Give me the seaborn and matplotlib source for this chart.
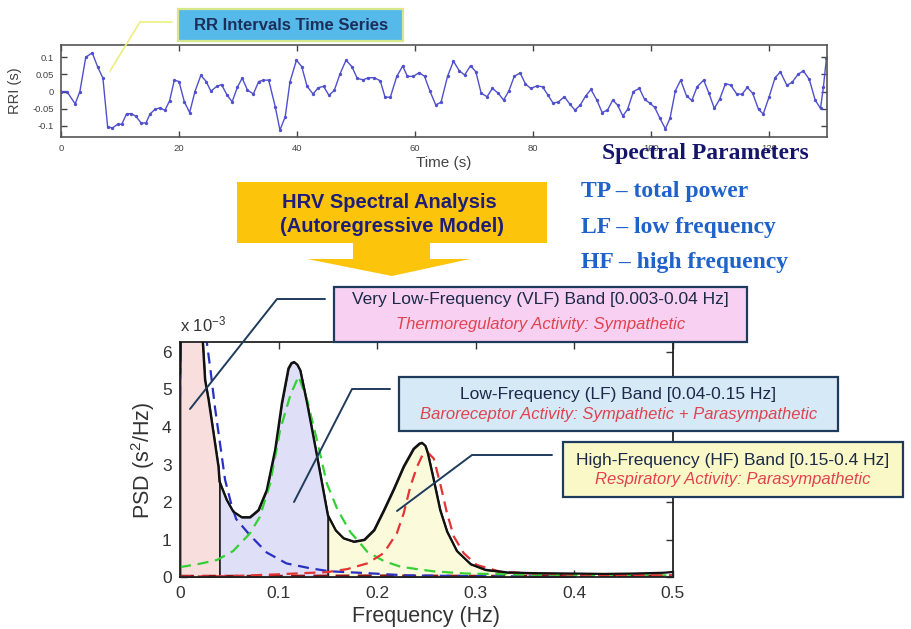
import numpy as np
import pandas as pd
import matplotlib
matplotlib.use("Agg")
import matplotlib.pyplot as plt
from matplotlib.patches import Rectangle, Polygon
from matplotlib.lines import Line2D
import seaborn as sns

# ---------------- RR interval series (s, deviation from mean in s) ----------------
rr_time = [0.0, 1.0, 2.4, 3.2, 4.2, 5.3, 6.2, 7.1, 7.9, 8.7, 9.6, 10.3, 11.1, 11.9,
           12.7, 13.6, 14.4, 15.1, 15.9, 16.8, 17.6, 18.4, 19.2, 20.0, 20.9, 21.8,
           22.7, 23.7, 24.6, 25.4, 26.4, 27.2, 28.1, 29.0, 29.9, 30.7, 31.6, 32.6,
           33.5, 34.3, 35.2, 36.3, 37.1, 38.0, 38.8, 39.9, 40.8, 41.7, 42.7, 43.6,
           44.5, 45.4, 46.3, 47.3, 48.3, 49.3, 50.2, 51.2, 52.1, 53.1, 54.1, 54.9,
           55.8, 56.9, 57.9, 58.7, 59.7, 60.7, 61.6, 62.5, 63.5, 64.4,
           65.5, 66.5, 67.5, 68.4, 69.4, 70.3, 71.2, 72.2, 73.1, 74.1, 75.0, 75.9,
           76.8, 77.8, 78.7, 79.6, 80.6, 81.6, 82.5, 83.4, 84.3, 85.3, 86.2, 87.1,
           88.0, 88.9, 89.8, 90.8, 91.7, 92.6, 93.5, 94.3, 95.2, 96.0, 97.0, 98.0,
           98.9, 99.8, 100.6, 101.5, 102.4, 103.2, 104.1, 105.0, 106.0, 106.9, 107.8,
           108.9, 109.8, 110.7, 111.6, 112.6, 113.5, 114.5, 115.4, 116.3, 117.2,
           118.2, 119.0, 120.0, 121.0, 121.9, 123.0, 123.9, 124.9, 125.8, 126.8,
           127.8, 128.7, 129.2, 129.7]
rr_value = [0.0, 0.0, -0.036, 0.0, 0.1, 0.112, 0.072, 0.039, -0.102, -0.106, -0.095,
            -0.095, -0.065, -0.064, -0.072, -0.092, -0.091, -0.065, -0.052, -0.047,
            -0.055, -0.027, 0.033, 0.029, -0.03, -0.061, 0.0, 0.047, 0.029, 0.001,
            0.015, 0.02, -0.009, -0.03, 0.013, 0.039, 0.004, -0.007, 0.029, 0.033,
            0.033, -0.044, -0.112, -0.073, 0.028, 0.091, 0.072, 0.015, -0.007, 0.011,
            0.015, -0.011, 0.003, 0.052, 0.091, 0.072, 0.038, 0.034, 0.04, 0.04,
            0.031, -0.016, -0.017, 0.044, 0.074, 0.044, 0.044, 0.055, 0.044, 0.002,
            -0.039, -0.031,
            0.044, 0.088, 0.06, 0.048, 0.075, 0.057, -0.005, -0.015, 0.009, -0.005,
            -0.025, 0.002, 0.044, 0.054, 0.022, 0.009, 0.016, 0.014, -0.01, -0.034,
            -0.03, -0.015, -0.036, -0.054, -0.039, -0.013, 0.006, -0.025, -0.061,
            -0.054, -0.025, -0.039, -0.071, -0.052, 0.0, 0.009, -0.023, -0.034,
            -0.046, -0.078, -0.108, -0.078, 0.002, 0.033, -0.013, -0.026, 0.014,
            0.033, -0.005, -0.049, -0.023, 0.023, 0.018, -0.007, -0.008, 0.012,
            -0.005, -0.052, -0.065, -0.015, 0.04, 0.057, 0.018, 0.027, 0.05, 0.06,
            0.035, -0.025, -0.049, 0.014, 0.096]
rr_xticks = [0, 20, 40, 60, 80, 100, 120]
rr_yticks = [-0.1, -0.05, 0, 0.05, 0.1]
rr_ytick_labels = ["-0.1", "-0.05", "0", "0.05", "0.1"]

# ---------------- AR power spectral density (x 10^-3 s^2/Hz) ----------------
psd_freq = [0.0, 0.002, 0.010, 0.018, 0.023, 0.0254, 0.029, 0.034, 0.039, 0.040,
            0.0474, 0.054, 0.0626, 0.071, 0.0796, 0.088, 0.0965, 0.1033, 0.110,
            0.113, 0.1158, 0.119, 0.122, 0.129, 0.136, 0.142, 0.150, 0.158, 0.166,
            0.1765, 0.187, 0.197, 0.207, 0.217, 0.227, 0.237, 0.243, 0.2456, 0.249,
            0.2515, 0.2575, 0.264, 0.271, 0.281, 0.295, 0.310, 0.332, 0.360, 0.400,
            0.430, 0.460, 0.490, 0.500]
psd_total = [5.4, 9.0, 12.0, 8.0, 6.3, 5.25, 4.72, 3.83, 2.94, 2.55, 2.06, 1.75,
             1.60, 1.60, 1.79, 2.32, 3.39, 4.63, 5.56, 5.70, 5.73, 5.66, 5.51, 4.63,
             3.65, 2.80, 1.65, 1.25, 1.04, 0.95, 1.0, 1.26, 1.79, 2.35, 2.95, 3.42,
             3.56, 3.58, 3.50, 3.30, 2.59, 1.79, 1.22, 0.70, 0.35, 0.20, 0.13, 0.11,
             0.10, 0.09, 0.10, 0.12, 0.14]

vlf_freq = [0.0, 0.002, 0.012, 0.022, 0.027, 0.031, 0.0356, 0.0457, 0.052, 0.057,
            0.071, 0.088, 0.108, 0.132, 0.152, 0.19, 0.23, 0.3, 0.4, 0.5]
vlf_comp = [4.8, 9.0, 12.0, 9.0, 6.3, 5.5, 4.5, 2.6, 1.95, 1.55, 1.12, 0.66, 0.37,
            0.24, 0.16, 0.11, 0.05, 0.03, 0.02, 0.02]

lf_freq = [0.0, 0.02, 0.0375, 0.054, 0.071, 0.081, 0.0915, 0.1016, 0.112, 0.1203,
           0.129, 0.139, 0.149, 0.16, 0.173, 0.183, 0.19, 0.207, 0.224, 0.24, 0.257,
           0.29, 0.35, 0.4, 0.5]
lf_comp = [0.27, 0.36, 0.46, 0.7, 1.17, 1.61, 2.5, 3.92, 4.85, 5.35, 4.72, 3.65,
           2.5, 1.79, 1.2, 0.9, 0.68, 0.43, 0.28, 0.22, 0.16, 0.1, 0.07, 0.06, 0.05]

hf_freq = [0.0, 0.05, 0.1, 0.15, 0.17, 0.19, 0.2066, 0.22, 0.227, 0.2337, 0.2405,
           0.246, 0.2507, 0.2575, 0.264, 0.271, 0.278, 0.288, 0.301, 0.325, 0.36,
           0.4, 0.5]
hf_comp = [0.02, 0.03, 0.08, 0.14, 0.22, 0.37, 0.64, 1.17, 1.70, 2.41, 2.94, 3.25,
           3.34, 3.16, 2.5, 1.7, 1.08, 0.64, 0.33, 0.15, 0.1, 0.07, 0.05]

res_freq = [0.0, 0.1, 0.2, 0.3, 0.4, 0.5]
res_comp = [0.03, 0.03, 0.04, 0.03, 0.03, 0.04]

psd_xticks = [0, 0.1, 0.2, 0.3, 0.4, 0.5]
psd_xtick_labels = ["0", "0.1", "0.2", "0.3", "0.4", "0.5"]
psd_yticks = [0, 1, 2, 3, 4, 5, 6]

bands = [("VLF", 0.0, 0.04, "#f9dede"),
         ("LF", 0.04, 0.15, "#dfdff7"),
         ("HF", 0.15, 0.40, "#fbfadb")]

band_boxes = [
    ("Very Low-Frequency (VLF) Band [0.003-0.04 Hz]",
     "Thermoregulatory Activity: Sympathetic", "#f8d0f1", (334, 287, 747, 342), (0.23, 0.69)),
    ("Low-Frequency (LF) Band [0.04-0.15 Hz]",
     "Baroreceptor Activity: Sympathetic + Parasympathetic", "#d5e9f7", (399, 377, 838, 431), (0.33, 0.70)),
    ("High-Frequency (HF) Band [0.15-0.4 Hz]",
     "Respiratory Activity: Parasympathetic", "#fbf8c8", (563, 442, 903, 497), (0.33, 0.69)),
]
leader_lines = [
    [(190, 409), (277, 299), (325, 299)],
    [(294, 502), (352, 389), (390, 389)],
    [(397, 511), (472, 455), (552, 455)],
]

param_title = "Spectral Parameters"
param_items = ["TP \u2013 total power", "LF \u2013 low frequency", "HF \u2013 high frequency"]

# ---------------- styling ----------------
sns.set_theme(style="ticks")
plt.rcParams["font.family"] = ["Liberation Sans", "DejaVu Sans"]
plt.rcParams["mathtext.default"] = "regular"

W, H = 912, 629
fig = plt.figure(figsize=(W / 100, H / 100), dpi=100)
fig.patch.set_facecolor("white")


def fx(x):
    return x / W


def fy(y):
    return 1 - y / H


def frame(x0, y0, x1, y1):
    return [fx(x0), fy(y1), (x1 - x0) / W, (y1 - y0) / H]


# ---------------- RR time series ----------------
ax_rr = fig.add_axes(frame(61, 45, 827, 137))
rr = pd.DataFrame({"t": rr_time, "rri": rr_value})
sns.lineplot(data=rr, x="t", y="rri", ax=ax_rr, color="#5050cc", lw=1.0,
             marker="o", markersize=2.4, markeredgewidth=0, errorbar=None)
ax_rr.set_xlim(0, 129.8)
ax_rr.set_ylim(-0.132, 0.135)
ax_rr.set_xticks(rr_xticks)
ax_rr.set_yticks(rr_yticks)
ax_rr.set_yticklabels(rr_ytick_labels)
ax_rr.tick_params(direction="in", top=True, right=True, length=4, width=1,
                  labelsize=6.8, colors="#444444", pad=5)
for s in ax_rr.spines.values():
    s.set_color("#555555")
    s.set_linewidth(1.2)
ax_rr.set_xlabel("Time (s)", fontsize=11, color="#444444", va="center")
ax_rr.xaxis.set_label_coords(0.499, -0.283)
ax_rr.set_ylabel("RRI (s)", fontsize=10.5, color="#444444", va="center")
ax_rr.yaxis.set_label_coords(-0.060, 0.5)

# ---------------- PSD panel ----------------
ax = fig.add_axes(frame(180, 341.7, 672.7, 577.3))
f = np.array(psd_freq)
p = np.array(psd_total)
for name, lo, hi, col in bands:
    m = (f >= lo) & (f <= hi)
    ax.fill_between(f[m], 0, p[m], facecolor=col, edgecolor="#222222", lw=1.3, zorder=1)

dash = (0, (5, 3))
sns.lineplot(x=res_freq, y=res_comp, ax=ax, color="#8b1010", lw=2.0, linestyle=dash, zorder=2)
sns.lineplot(x=vlf_freq, y=vlf_comp, ax=ax, color="#2a2fc4", lw=1.6, linestyle=dash, zorder=2)
sns.lineplot(x=lf_freq, y=lf_comp, ax=ax, color="#34d034", lw=1.6, linestyle=dash, zorder=2)
sns.lineplot(x=hf_freq, y=hf_comp, ax=ax, color="#e23434", lw=1.6, linestyle=dash, zorder=2)
sns.lineplot(x=psd_freq, y=psd_total, ax=ax, color="#111111", lw=1.6, zorder=3)

ax.set_xlim(0, 0.5)
ax.set_ylim(0, 6.27)
ax.set_xticks(psd_xticks)
ax.set_xticklabels(psd_xtick_labels)
ax.set_yticks(psd_yticks)
ax.tick_params(direction="in", top=True, right=True, length=5, width=1,
               labelsize=12.5, colors="#333333", pad=6)
for s in ax.spines.values():
    s.set_color("#222222")
    s.set_linewidth(1.3)
ax.set_xlabel("Frequency (Hz)", fontsize=15.5, color="#333333", va="center")
ax.xaxis.set_label_coords(0.5, -0.165)
ax.set_ylabel("PSD (s$^2$/Hz)", fontsize=15.5, color="#333333", va="center")
ax.yaxis.set_label_coords(-0.075, 0.498)
fig.text(fx(180), fy(331), "x 10$^{-3}$", fontsize=12, color="#333333", va="baseline", ha="left")

# ---------------- annotation graphics ----------------
navy = "#1f3b5c"
for pts in leader_lines:
    fig.add_artist(Line2D([fx(x) for x, _ in pts], [fy(y) for _, y in pts],
                          transform=fig.transFigure, color=navy, lw=1.4, zorder=4))

for title, sub, col, (x0, y0, x1, y1), (r1, r2) in band_boxes:
    fig.add_artist(Rectangle((fx(x0), fy(y1)), (x1 - x0) / W, (y1 - y0) / H,
                             transform=fig.transFigure, facecolor=col,
                             edgecolor=navy, lw=1.6, zorder=5))
    cx = (x0 + x1) / 2
    fig.text(fx(cx), fy(y0 + (y1 - y0) * r1), title, ha="center", va="center",
             fontsize=12.5, color="#1b2a48", zorder=6)
    fig.text(fx(cx), fy(y0 + (y1 - y0) * r2), sub, ha="center", va="center",
             fontsize=12, style="italic", color="#e0434f", zorder=6)

# title tag over the RR series
fig.add_artist(Line2D([fx(110), fx(140), fx(172)], [fy(71), fy(22), fy(22)],
                      transform=fig.transFigure, color="#eeee80", lw=1.2, zorder=4))
fig.add_artist(Rectangle((fx(178), fy(40.7)), (403 - 178) / W, (40.7 - 9.3) / H,
                         transform=fig.transFigure, facecolor="#55b9ea",
                         edgecolor="#d6e88e", lw=1.6, zorder=5))
fig.text(fx(291), fy(25), "RR Intervals Time Series", ha="center", va="center",
         fontsize=12, weight="bold", color="#1c2e5a", zorder=6)

# processing arrow
arrow_px = [(237, 182), (547, 182), (547, 243), (430, 243), (430, 259), (470, 259),
            (392, 276), (307, 259), (353, 259), (353, 243), (237, 243)]
fig.add_artist(Polygon([(fx(x), fy(y)) for x, y in arrow_px], closed=True,
                       transform=fig.transFigure, facecolor="#fdc40c",
                       edgecolor="none", zorder=4))
fig.text(fx(389), fy(203), "HRV Spectral Analysis", ha="center", va="center",
         fontsize=14.5, weight="bold", color="#1e1e78", zorder=6)
fig.text(fx(392), fy(227), "(Autoregressive Model)", ha="center", va="center",
         fontsize=14.5, weight="bold", color="#1e1e78", zorder=6)

# spectral parameters list
serif = ["Liberation Serif", "DejaVu Serif"]
fig.text(fx(705), fy(154), param_title, ha="center", va="center", fontsize=17,
         weight="bold", color="#15156b", family=serif, zorder=6)
for i, item in enumerate(param_items):
    fig.text(fx(581), fy(191.5 + 35.7 * i), item, ha="left", va="center", fontsize=17,
             weight="bold", color="#1f62c9", family=serif, zorder=6)

fig.savefig("out.png", dpi=100, facecolor="white")
